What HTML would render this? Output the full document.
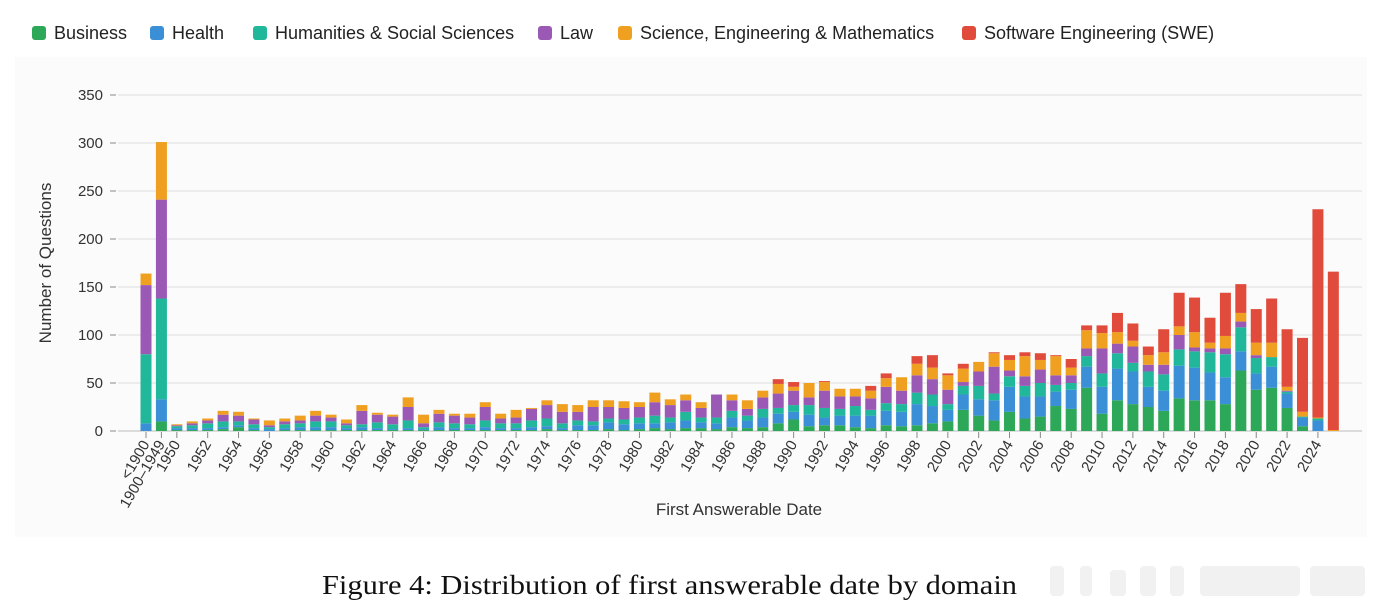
<!DOCTYPE html>
<html><head><meta charset="utf-8"><style>
body{margin:0;background:#fff;width:1382px;height:610px;overflow:hidden;font-family:"Liberation Sans",sans-serif}
</style></head><body>
<svg id="chart" width="1382" height="610" xmlns="http://www.w3.org/2000/svg" font-family="Liberation Sans, sans-serif">
<rect x="15" y="57" width="1352" height="480" fill="#fbfbfb"/>
<g id="legend"></g>
<g id="grid"></g><g id="bars"></g><g id="xaxis"></g>
<text transform="translate(51,263) rotate(-90)" text-anchor="middle" font-size="17" fill="#333">Number of Questions</text>
<text x="739" y="515" text-anchor="middle" font-size="17" fill="#333">First Answerable Date</text>
<text x="322" y="594" textLength="695" lengthAdjust="spacingAndGlyphs" font-size="27" font-family="Liberation Serif, serif" fill="#111">Figure 4: Distribution of first answerable date by domain</text>
<g fill="#f1f1f1"><rect x="1050" y="566" width="14" height="30" rx="4"/><rect x="1080" y="566" width="12" height="30" rx="4"/><rect x="1110" y="570" width="16" height="26" rx="4"/><rect x="1140" y="566" width="16" height="30" rx="4"/><rect x="1170" y="566" width="14" height="30" rx="4"/><rect x="1200" y="566" width="100" height="30" rx="4"/><rect x="1310" y="566" width="55" height="30" rx="4"/></g>
</svg>
<script>
const seriesNames=["Business","Health","Humanities & Social Sciences","Law","Science, Engineering & Mathematics","Software Engineering (SWE)"];
const colors=["#2da858","#3a8fd6","#21b79a","#9b59b6","#f0a021","#e14b3b"];
const yTicks=[0,50,100,150,200,250,300,350];
const categories=["<1900","1900–1949"];
for(let y=1950;y<=2025;y++)categories.push(String(y));
const business=[0,10,
1,1,1,2,4,1,0,1,1,1,
1,1,1,1,1,1,1,1,1,1,
1,1,1,1,2,1,1,1,2,1,
2,3,2,3,3,2,4,3,4,8,
12,5,6,6,4,3,6,5,6,8,
10,22,16,11,20,13,15,26,23,45,
18,32,28,25,21,34,32,32,28,63,
43,45,24,5,0,0];
const health=[8,23,
2,2,2,2,2,2,2,2,3,3,
3,2,3,2,1,2,1,3,2,2,
3,2,2,3,3,2,5,5,7,6,
6,5,7,8,6,6,10,8,10,10,
8,12,8,10,12,13,15,15,22,18,
12,16,17,21,26,23,21,15,20,22,
28,33,34,21,21,34,34,29,28,20,
17,22,15,9,11,0];
const humanities=[72,105,
2,3,5,6,4,4,2,4,4,6,
6,3,3,6,5,8,2,5,5,4,
7,5,5,7,8,5,5,4,4,5,
6,8,5,9,5,6,7,5,9,6,
7,10,10,7,10,6,8,8,12,12,
6,9,14,7,11,11,14,7,7,11,
14,16,9,16,17,17,17,21,24,25,
16,10,2,1,2,0];
const law=[72,103,
1,2,3,7,6,5,2,3,3,6,
4,2,14,8,8,14,4,9,8,7,
14,5,6,12,14,12,9,15,12,12,
11,14,13,12,10,24,11,7,12,15,
15,8,18,13,10,12,17,14,18,16,
15,4,15,28,6,10,14,10,8,8,
26,10,17,7,10,15,4,4,6,6,
3,0,1,0,0,0];
const science=[12,60,
1,2,2,4,4,1,5,3,5,5,
3,4,6,2,2,10,9,4,2,4,
5,5,8,1,5,8,7,7,7,7,
5,10,6,6,6,0,6,9,7,10,
4,15,9,8,8,8,9,14,12,12,
15,14,10,14,11,21,10,20,8,19,
16,12,6,10,13,9,16,6,13,9,
13,15,4,5,1,1];
const swe=[0,0,
0,0,0,0,0,0,0,0,0,0,
0,0,0,0,0,0,0,0,0,0,
0,0,0,0,0,0,0,0,0,0,
0,0,0,0,0,0,0,0,0,5,
5,0,1,0,0,5,5,0,8,13,
2,5,0,1,5,4,7,1,9,5,
8,20,18,9,24,35,36,26,45,30,
35,46,60,77,217,165];
const series=[business,health,humanities,law,science,swe];
const X0=146,DX=15.42,BW=11,Y0=431,PX=0.96;
const xPos=i=>X0+i*DX;
const yPos=v=>Y0-v*PX;
const NS="http://www.w3.org/2000/svg";
function mk(t,a,p){const e=document.createElementNS(NS,t);for(const k in a)e.setAttribute(k,a[k]);p.appendChild(e);return e;}
const lg=document.getElementById('legend');
const lx=[32,150,253,538,618,962];
seriesNames.forEach((n,i)=>{
 const g=mk('g',{},lg);
 
 
 mk('rect',{x:lx[i],y:26,width:14,height:14,rx:3,fill:colors[i]},g);
 const t=mk('text',{x:lx[i]+22,y:39,'font-size':18,fill:'#222'},g);t.textContent=n;
});
const gr=document.getElementById('grid');
yTicks.forEach(v=>{
 const y=yPos(v);
 const l=mk('line',{x1:118,x2:1362,y1:y,y2:y,stroke:v===0?'#bbb':'#ddd','stroke-width':1},gr);
 
 
 mk('line',{x1:110,x2:116,y1:y,y2:y,stroke:'#888'},gr);
 const t=mk('text',{x:103,y:y+5,'text-anchor':'end','font-size':15,fill:'#333'},gr);t.textContent=v;
 
 
});
const bg=document.getElementById('bars');
categories.forEach((c,i)=>{
 let acc=0;
 series.forEach((s,k)=>{
  const v=s[i];if(!v)return;
  const r=mk('rect',{x:xPos(i)-BW/2,y:yPos(acc+v),width:BW,height:v*PX,fill:colors[k]},bg);
  
  
  acc+=v;
 });
});
const xa=document.getElementById('xaxis');
categories.forEach((c,i)=>{
 if(i>=2 && (i-2)%2!==0)return;
 const x=xPos(i);
 mk('line',{x1:x,x2:x,y1:432,y2:438,stroke:'#888'},xa);
 const t=mk('text',{transform:`translate(${x+4},${444}) rotate(-60)`,'text-anchor':'end','font-size':15,fill:'#333'},xa);
 t.textContent=c;
 
 
});
</script>
</body></html>
